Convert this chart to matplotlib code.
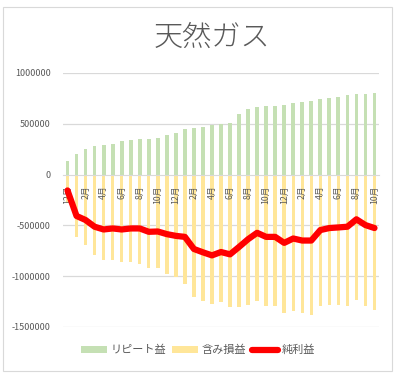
import matplotlib
matplotlib.use('Agg')
import matplotlib.pyplot as plt
from matplotlib.patches import Rectangle
import numpy as np

plt.rcParams['font.family'] = ['Noto Sans CJK JP', 'DejaVu Sans']

# 月ラベル (12月 から 3年後の10月まで)
months = ['12月'] + [f'{m}月' for m in range(1, 13)] * 2 + [f'{m}月' for m in range(1, 11)]

# リピート益 (円)
repeat_profit = [131000, 206000, 248000, 278000, 288000, 297000, 327000, 337000, 346000,
                 346000, 356000, 392000, 405000, 451000, 461000, 471000, 484000, 497000,
                 507000, 598000, 644000, 667000, 677000, 677000, 686000, 706000, 716000,
                 725000, 745000, 755000, 765000, 784000, 794000, 794000, 804000]

# 含み損益 (円)
unrealized = [-280000, -612000, -695000, -795000, -838000, -838000, -861000, -861000, -884000,
              -917000, -917000, -983000, -1010000, -1076000, -1209000, -1242000, -1275000, -1258000,
              -1300000, -1300000, -1285000, -1245000, -1295000, -1295000, -1360000, -1345000, -1362000,
              -1385000, -1295000, -1280000, -1280000, -1295000, -1238000, -1295000, -1330000]

# 純利益 (円)
net_profit = [-156000, -407000, -447000, -513000, -540000, -530000, -540000, -530000, -530000,
              -563000, -560000, -586000, -603000, -613000, -732000, -765000, -795000, -762000,
              -785000, -712000, -636000, -573000, -613000, -613000, -672000, -629000, -649000,
              -649000, -546000, -526000, -520000, -513000, -440000, -497000, -526000]

green = '#c5e0b4'
yellow = '#ffe699'
grid_c = '#d9d9d9'
text_c = '#595959'

fig = plt.figure(figsize=(3.98, 3.73), dpi=100)
fig.patches.append(Rectangle((3 / 398, 2 / 373), 389 / 398, 364 / 373, transform=fig.transFigure,
                             fill=False, edgecolor=grid_c, linewidth=0.8))

ax = fig.add_axes([63 / 398, 1 - 327 / 373, 316 / 398, 254 / 373])
x = np.arange(len(months))

yticks = np.arange(-1500000, 1000001, 500000)
for v in yticks:
    if v != 0:
        ax.axhline(v, color=grid_c, linewidth=0.9, zorder=0)

b1 = ax.bar(x, repeat_profit, width=0.42, color=green, label='リピート益', zorder=1)
b2 = ax.bar(x, unrealized, width=0.38, color=yellow, label='含み損益', zorder=1)
ln, = ax.plot(x, net_profit, color='#ff0000', linewidth=4.5, solid_joinstyle='round',
              solid_capstyle='round', label='純利益', zorder=4)

ax.set_xlim(-0.5, len(months) - 0.5)
ax.set_ylim(-1500000, 1000000)
ax.set_yticks(yticks)
ax.set_yticklabels([str(v) for v in yticks])

for s in ['top', 'right', 'left']:
    ax.spines[s].set_visible(False)
ax.spines['bottom'].set_position(('data', 0))
ax.spines['bottom'].set_color(grid_c)

ax.set_xticks(x[::2])
ax.set_xticklabels(months[::2], rotation=90, fontsize=6.3, color=text_c)
ax.tick_params(axis='x', length=0, pad=8)
ax.tick_params(axis='y', length=0, pad=9, labelsize=6.5, labelcolor=text_c)

fig.text(212 / 398, 1 - 38 / 373, '天然ガス', ha='center', va='center', fontsize=21,
         fontweight='light', color=text_c)

fig.legend([b1, b2, ln], ['リピート益', '含み損益', '純利益'], loc='center',
           bbox_to_anchor=(198 / 398, 1 - 350 / 373), ncol=3, frameon=False,
           fontsize=8, handlelength=2.35, handleheight=0.6, handletextpad=0.35, columnspacing=0.5,
           labelcolor=text_c)

fig.savefig('out.png', dpi=100, facecolor='white')
